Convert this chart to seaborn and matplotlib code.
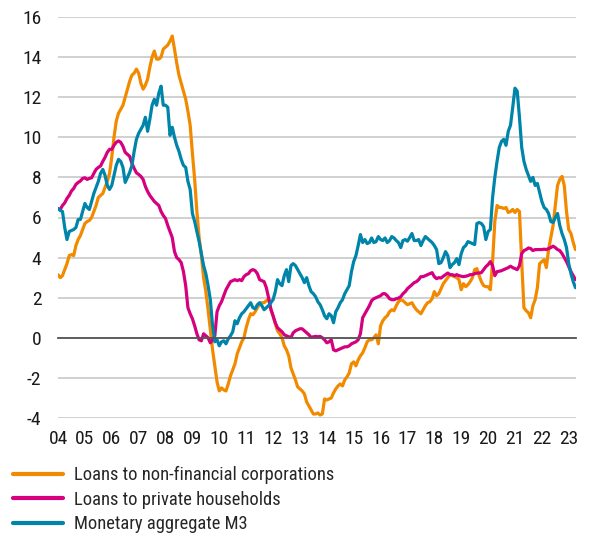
import numpy as np
import pandas as pd
import matplotlib
matplotlib.use("Agg")
import matplotlib.pyplot as plt
from matplotlib import font_manager
import seaborn as sns

# monthly growth rates (% yoy), Jan 2004 - Apr 2023
loans_nfc = [
    3.15, 3.0, 3.1, 3.4, 3.7, 4.1, 4.15, 4.1, 4.6, 4.9, 5.1, 5.4,            # 2004
    5.7, 5.8, 5.85, 6.0, 6.3, 6.6, 7.0, 7.1, 7.2, 7.5, 7.8, 8.2,            # 2005
    9.0, 10.0, 10.8, 11.2, 11.4, 11.6, 12.0, 12.4, 12.8, 13.1, 13.2, 13.4,  # 2006
    13.2, 12.7, 12.4, 12.6, 12.9, 13.5, 14.0, 14.3, 13.9, 13.9, 14.0, 14.4, # 2007
    14.5, 14.6, 14.8, 15.05, 14.4, 13.7, 13.1, 12.7, 12.3, 11.9, 11.3, 10.6, # 2008
    9.2, 7.9, 6.3, 5.0, 4.1, 3.0, 2.3, 1.4, 0.4, -0.6, -1.4, -2.2,          # 2009
    -2.65, -2.5, -2.6, -2.65, -2.3, -1.9, -1.6, -1.3, -0.8, -0.5, -0.2, 0.0, # 2010
    0.5, 0.9, 1.2, 1.15, 1.3, 1.5, 1.7, 1.75, 1.75, 1.85, 1.95, 1.4,        # 2011
    1.1, 0.7, 0.35, 0.2, 0.0, -0.4, -0.6, -0.9, -1.5, -1.8, -2.1, -2.45,    # 2012
    -2.55, -2.65, -2.8, -3.2, -3.4, -3.6, -3.8, -3.8, -3.75, -3.85, -3.8, -3.05, # 2013
    -3.1, -3.05, -3.0, -2.75, -2.55, -2.4, -2.3, -2.4, -2.1, -1.95, -1.75, -1.3, # 2014
    -1.2, -1.4, -1.1, -0.9, -0.75, -0.5, -0.2, -0.1, -0.1, 0.0, 0.15, -0.3, # 2015
    0.6, 0.85, 1.0, 1.1, 1.3, 1.4, 1.35, 1.6, 1.8, 1.9, 1.85, 1.75,         # 2016
    1.65, 1.7, 1.75, 1.55, 1.4, 1.3, 1.2, 1.4, 1.6, 1.75, 1.8, 1.95,        # 2017
    2.3, 2.1, 2.2, 2.45, 2.7, 2.85, 3.0, 3.15, 3.1, 3.05, 3.0, 2.9,         # 2018
    2.4, 2.7, 2.55, 2.65, 2.8, 3.0, 3.4, 3.45, 3.1, 2.8, 2.6, 2.55,         # 2019
    2.55, 2.4, 3.8, 5.8, 6.6, 6.5, 6.5, 6.45, 6.5, 6.25, 6.3, 6.4,          # 2020
    6.25, 6.4, 6.3, 3.8, 1.5, 1.35, 1.25, 1.0, 1.6, 1.9, 2.5, 3.7,          # 2021
    3.8, 3.9, 3.5, 4.4, 5.0, 5.6, 6.6, 7.6, 7.9, 8.05, 7.6, 6.3,            # 2022
    5.4, 5.2, 4.75, 4.4,                                                    # 2023
]
loans_households = [
    6.43, 6.4, 6.6, 6.73, 6.95, 7.1, 7.32, 7.45, 7.65, 7.75, 7.82, 7.95,
    7.98, 7.9, 7.95, 7.98, 8.2, 8.4, 8.5, 8.57, 8.8, 9.0, 9.25, 9.4,
    9.4, 9.6, 9.75, 9.82, 9.75, 9.55, 9.25, 9.15, 9.05, 8.7, 8.45, 8.23,
    8.15, 8.05, 7.9, 7.55, 7.3, 7.1, 6.95, 6.8, 6.7, 6.6, 6.3, 6.1,
    5.95, 5.6, 5.3, 5.0, 4.3, 4.0, 3.9, 3.75, 3.3, 2.6, 1.5, 1.2,
    0.95, 0.6, 0.2, -0.1, -0.15, 0.2, 0.1, 0.0, -0.25, -0.1, 0.1, 1.3,
    1.6, 1.8, 2.1, 2.4, 2.6, 2.8, 2.85, 2.9, 2.85, 2.9, 2.85, 3.05,
    3.15, 3.2, 3.35, 3.4, 3.35, 3.2, 2.9, 2.85, 2.8, 2.5, 2.0, 1.45,
    1.1, 0.75, 0.5, 0.4, 0.3, 0.15, 0.1, 0.05, 0.02, 0.25, 0.35, 0.4,
    0.45, 0.45, 0.35, 0.25, 0.15, 0.02, 0.05, 0.07, 0.05, 0.07, 0.0, -0.1,
    -0.25, -0.2, -0.1, -0.6, -0.65, -0.6, -0.55, -0.5, -0.45, -0.45, -0.4, -0.3,
    -0.25, -0.2, -0.1, 0.2, 1.0, 1.2, 1.4, 1.6, 1.85, 1.95, 2.0, 2.05,
    2.1, 2.2, 2.2, 2.1, 1.95, 1.9, 1.9, 1.95, 1.98, 2.05, 2.2, 2.3,
    2.45, 2.55, 2.65, 2.75, 2.8, 2.9, 3.05, 3.05, 3.1, 3.15, 3.2, 3.25,
    3.05, 2.95, 3.0, 2.98, 3.07, 3.15, 3.23, 3.15, 3.15, 3.1, 3.15, 3.1,
    3.07, 3.05, 3.07, 3.1, 3.15, 3.15, 3.2, 3.23, 3.23, 3.25, 3.4, 3.55,
    3.65, 3.8, 3.6, 3.1, 3.3, 3.32, 3.35, 3.4, 3.45, 3.5, 3.57, 3.5,
    3.45, 3.4, 3.6, 4.2, 4.35, 4.4, 4.48, 4.45, 4.35, 4.4, 4.4, 4.4,
    4.4, 4.42, 4.4, 4.45, 4.5, 4.57, 4.5, 4.4, 4.35, 4.2, 4.0, 3.8,
    3.55, 3.3, 3.1, 2.9,
]
m3 = [
    6.45, 6.35, 6.3, 5.5, 4.9, 5.3, 5.35, 5.4, 5.5, 5.9, 5.9, 6.3,
    6.7, 6.5, 6.4, 6.8, 7.2, 7.5, 7.8, 8.2, 8.4, 8.1, 7.6, 7.4,
    7.6, 8.1, 8.6, 8.9, 8.8, 8.5, 7.75, 8.0, 8.25, 8.6, 9.3, 9.9,
    10.2, 10.4, 10.6, 11.0, 10.3, 10.9, 11.6, 11.9, 11.6, 12.2, 12.55, 11.6,
    11.6, 11.5, 10.1, 10.5, 10.0, 9.6, 9.3, 8.9, 8.6, 8.5, 7.8, 7.4,
    6.2, 5.8, 5.3, 4.8, 4.2, 3.6, 3.2, 2.6, 1.9, 0.6, -0.2, -0.1,
    -0.4, -0.2, -0.15, -0.3, -0.05, 0.1, 0.3, 0.85, 0.7, 1.0, 1.2, 1.3,
    1.45, 1.6, 1.75, 1.5, 1.45, 1.65, 1.75, 1.6, 1.4, 1.5, 1.6, 1.75,
    1.9, 2.3, 2.9, 2.7, 2.6, 3.1, 3.4, 2.8, 3.6, 3.7, 3.6, 3.4,
    3.2, 3.0, 2.75, 3.0, 2.6, 2.3, 2.2, 2.05, 1.8, 1.65, 1.4, 1.1,
    0.95, 1.2, 1.1, 0.75, 1.3, 1.5, 1.75, 1.9, 2.2, 2.4, 2.6, 3.3,
    3.8, 4.1, 4.6, 5.15, 4.75, 4.9, 4.7, 4.75, 4.98, 4.75, 4.8, 5.05,
    4.9, 4.85, 4.98, 4.75, 4.85, 5.05, 4.98, 4.85, 4.75, 4.5, 4.85, 4.9,
    4.82, 5.0, 5.2, 4.85, 4.85, 4.9, 4.6, 4.85, 5.05, 4.95, 4.85, 4.75,
    4.6, 4.4, 3.7, 3.75, 4.0, 4.3, 4.1, 3.5, 3.65, 3.75, 3.95, 3.65,
    4.2, 4.5, 4.6, 4.8, 4.75, 4.7, 4.65, 5.7, 5.75, 5.7, 5.55, 4.9,
    5.3, 5.4, 7.0, 8.0, 8.8, 9.5, 9.8, 9.9, 9.6, 10.3, 10.6, 11.5,
    12.45, 12.3, 11.0, 9.5, 8.8, 8.4, 8.1, 7.8, 8.0, 7.6, 7.7, 7.25,
    6.8, 6.5, 6.4, 6.2, 5.8, 5.75, 6.0, 6.2, 5.6, 5.2, 4.9, 4.5,
    3.7, 3.2, 2.8, 2.5,
]

series_names = ["Loans to non-financial corporations",
                "Loans to private households",
                "Monetary aggregate M3"]
colors = ["#F28A00", "#D6007F", "#0085AA"]
years = list(range(2004, 2024))
year_labels = [f"{y % 100:02d}" for y in years]
y_ticks = list(range(-4, 18, 2))

# decimal year for each month
t = 2004 + np.arange(len(loans_nfc)) / 12
df = pd.concat([
    pd.DataFrame({"t": t, "value": loans_nfc, "series": series_names[0]}),
    pd.DataFrame({"t": t, "value": loans_households, "series": series_names[1]}),
    pd.DataFrame({"t": t, "value": m3, "series": series_names[2]}),
])

sns.set_theme(style="white")

# the original uses a condensed face; take one if the system has it
installed = {f.name for f in font_manager.fontManager.ttflist}
narrow = [n for n in ["Liberation Sans Narrow", "Roboto Condensed", "Open Sans Condensed",
                      "Noto Sans Condensed", "Arial Narrow"] if n in installed]
if narrow:
    plt.rcParams["font.family"] = [narrow[0], "DejaVu Sans"]
    tick_fs, leg_fs = 14, 13.3
else:
    plt.rcParams["font.family"] = ["Liberation Sans", "DejaVu Sans"]
    tick_fs, leg_fs = 12.5, 12.2
plt.rcParams["axes.unicode_minus"] = False

fig = plt.figure(figsize=(5.92, 5.35), dpi=100)
ax = fig.add_axes([58 / 592, 1 - 418 / 535, 518 / 592, 401 / 535])

sns.lineplot(data=df, x="t", y="value", hue="series", hue_order=series_names,
             palette=colors, linewidth=2.3, ax=ax)

ax.set_xlim(2004, 2023.27)
ax.set_ylim(-4, 16)
ax.set_xlabel("")
ax.set_ylabel("")

# grid
ax.set_yticks(y_ticks)
ax.set_yticklabels([str(v) for v in y_ticks], fontsize=tick_fs, color="#1a1a1a")
ax.yaxis.grid(True, color="#c8c8c8", linewidth=1.2)
ax.xaxis.grid(False)
ax.set_axisbelow(True)
ax.tick_params(axis="y", length=0, pad=12)

for s in ["top", "right", "left"]:
    ax.spines[s].set_visible(False)
# zero line carries the year tick marks
ax.spines["bottom"].set_position(("data", 0))
ax.spines["bottom"].set_color("#555555")
ax.spines["bottom"].set_linewidth(1.3)
ax.set_xticks(years)
ax.tick_params(axis="x", direction="out", length=5, width=1.1, color="#555555",
               labelbottom=False)

# year labels below the plot
sec = ax.secondary_xaxis(0)
sec.set_xticks(years)
sec.set_xticklabels(year_labels, fontsize=tick_fs, color="#1a1a1a")
sec.tick_params(length=0, pad=9)
sec.spines["bottom"].set_visible(False)

handles, labels = ax.get_legend_handles_labels()
ax.get_legend().remove()
leg = fig.legend(handles, labels, loc="upper left", bbox_to_anchor=(13 / 592, 1 - 466 / 535),
                 frameon=False, fontsize=leg_fs, handlelength=2.7, handletextpad=0.62,
                 labelspacing=0.36, borderaxespad=0, borderpad=0)
for line in leg.get_lines():
    line.set_linewidth(3)

fig.savefig("out.png", dpi=100)
